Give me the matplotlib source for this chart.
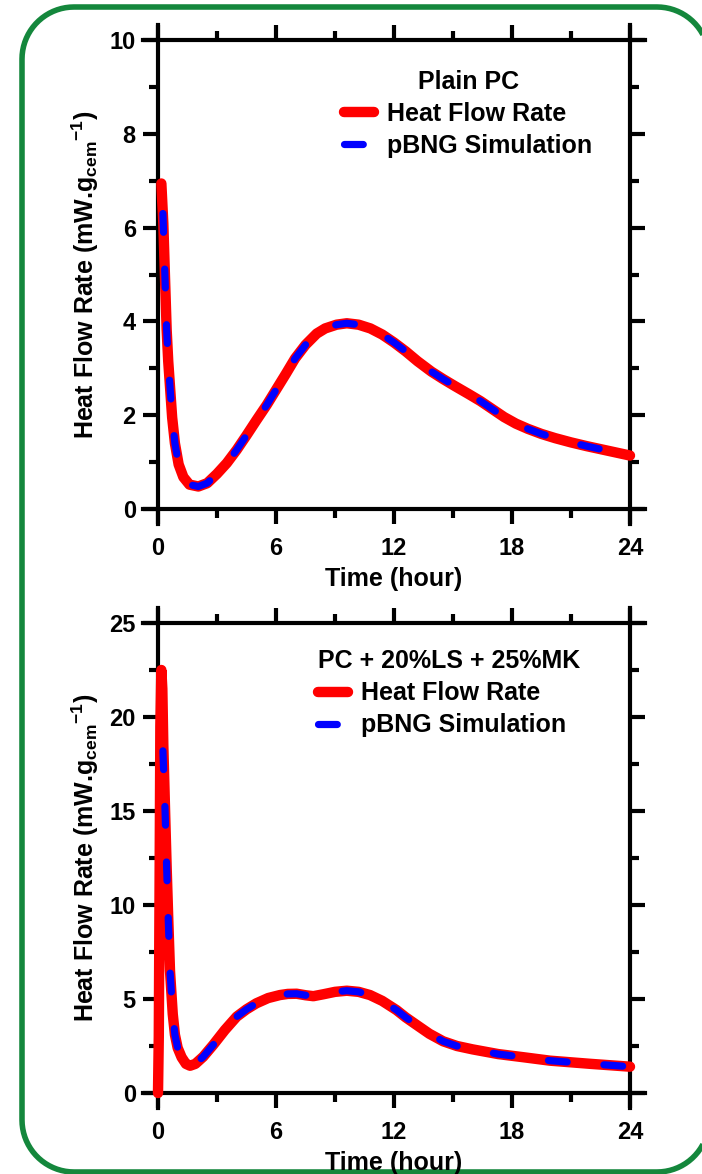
import matplotlib
matplotlib.use('Agg')
import matplotlib.pyplot as plt
import numpy as np
from matplotlib.ticker import MultipleLocator
from matplotlib.lines import Line2D

plt.rcParams['font.family'] = ['Liberation Sans', 'DejaVu Sans']
plt.rcParams['font.weight'] = 'bold'
plt.rcParams['axes.labelweight'] = 'bold'
plt.rcParams['mathtext.fontset'] = 'custom'
plt.rcParams['mathtext.rm'] = 'Liberation Sans:bold'
plt.rcParams['mathtext.bf'] = 'Liberation Sans:bold'
plt.rcParams['mathtext.default'] = 'rm'
plt.rcParams['savefig.bbox'] = 'standard'

# Plain PC - measured heat flow (hours, mW/g)
pc_time = [0.17, 0.27, 0.36, 0.44, 0.52, 0.61, 0.72, 0.86, 1.05, 1.29, 1.6,
           2.05, 2.5, 3.0, 3.5, 4.0, 4.5, 5.0, 5.53, 6.0, 6.5, 6.97, 7.5, 8.07, 8.5,
           9.08, 9.6, 10.2, 10.8, 11.4, 12.0, 12.6, 13.2, 13.9, 14.5, 15.1, 15.8,
           16.4, 17.0, 17.6, 18.2, 18.8, 19.5, 20.2, 21.0, 21.8, 22.9, 24.0]
pc_heat = [6.94, 6.09, 4.88, 3.82, 3.15, 2.61, 1.95, 1.40, 0.95, 0.68, 0.52,
           0.48, 0.55, 0.75, 0.98, 1.26, 1.57, 1.89, 2.22, 2.54, 2.88, 3.21, 3.5, 3.74,
           3.85, 3.93, 3.96, 3.93, 3.85, 3.72, 3.55, 3.36, 3.15, 2.93, 2.77, 2.62, 2.45,
           2.3, 2.13, 1.96, 1.82, 1.71, 1.6, 1.51, 1.42, 1.34, 1.24, 1.14]
# Plain PC - pBNG simulation
pc_sim_time = [0.25, 0.36, 0.44, 0.52, 0.61, 0.72, 0.86, 1.05, 1.29, 1.6, 2.05, 2.5,
               3.0, 3.5, 4.0, 4.5, 5.0, 5.53, 6.0, 6.5, 6.97, 7.5, 8.07, 8.5, 9.08,
               9.6, 10.2, 10.8, 11.4, 12.0, 12.6, 13.2, 13.9, 14.5, 15.1, 15.8, 16.4,
               17.0, 17.6, 18.2, 18.8, 19.5, 20.2, 21.0, 21.8, 22.9, 24.0]
pc_sim = [6.3, 4.88, 3.82, 3.15, 2.61, 1.95, 1.40, 0.95, 0.68, 0.52, 0.48, 0.55,
          0.75, 0.98, 1.26, 1.57, 1.89, 2.22, 2.54, 2.88, 3.21, 3.5, 3.74, 3.85, 3.93,
          3.96, 3.93, 3.85, 3.72, 3.55, 3.36, 3.15, 2.93, 2.77, 2.62, 2.45, 2.3,
          2.13, 1.96, 1.82, 1.71, 1.6, 1.51, 1.42, 1.34, 1.24, 1.14]

# PC + 20%LS + 25%MK - measured heat flow
mk_time = [0.0, 0.04, 0.08, 0.12, 0.17, 0.22, 0.27, 0.36, 0.44, 0.52, 0.61, 0.75, 0.86,
           1.0, 1.2, 1.42, 1.63, 1.9, 2.3, 2.8, 3.4, 4.0, 4.5, 5.0, 5.6, 6.2, 6.6,
           7.05, 7.5, 7.9, 8.4, 9.0, 9.6, 10.2, 10.78, 11.4, 12.13, 12.6, 13.15,
           13.8, 14.5, 15.2, 16.0, 17.3, 18.6, 19.93, 22.0, 24.0]
mk_heat = [0.0, 3.0, 11.0, 19.5, 22.5, 21.5, 18.5, 15.0, 12.0, 9.3, 6.5, 4.2, 3.1,
           2.4, 1.9, 1.55, 1.45, 1.55, 1.93, 2.55, 3.35, 4.06, 4.45, 4.77, 5.05, 5.21,
           5.27, 5.28, 5.2, 5.15, 5.25, 5.38, 5.44, 5.38, 5.21, 4.9, 4.41, 4.02, 3.62,
           3.15, 2.75, 2.5, 2.32, 2.07, 1.9, 1.72, 1.55, 1.4]
# PC + 20%LS + 25%MK - pBNG simulation
mk_sim_time = [0.25, 0.36, 0.44, 0.52, 0.61, 0.75, 0.86, 1.0, 1.2, 1.42, 1.63, 1.9,
               2.3, 2.8, 3.4, 4.0, 4.5, 5.0, 5.6, 6.2, 6.6, 7.05, 7.5, 7.9, 8.4, 9.0,
               9.6, 10.2, 10.78, 11.4, 12.13, 12.6, 13.15, 13.8, 14.5, 15.2, 16.0,
               17.3, 18.6, 19.93, 22.0, 24.0]
mk_sim = [18.2, 15.0, 12.0, 9.3, 6.5, 4.2, 3.1, 2.4, 1.9, 1.55, 1.45, 1.55,
          1.93, 2.55, 3.35, 4.06, 4.45, 4.77, 5.05, 5.21, 5.27, 5.28, 5.2, 5.15,
          5.25, 5.38, 5.44, 5.38, 5.21, 4.9, 4.41, 4.02, 3.62, 3.15, 2.75, 2.5,
          2.32, 2.07, 1.9, 1.72, 1.55, 1.4]

FS = 18
YLABEL = r'Heat Flow Rate (mW.g$_{cem}$$^{-1}$)'


def style_axes(ax, ymax, ymajor, yminor):
    ax.set_xlim(0, 24)
    ax.set_ylim(0, ymax)
    ax.xaxis.set_major_locator(MultipleLocator(6))
    ax.xaxis.set_minor_locator(MultipleLocator(3))
    ax.yaxis.set_major_locator(MultipleLocator(ymajor))
    ax.yaxis.set_minor_locator(MultipleLocator(yminor))
    ax.tick_params(which='both', direction='out', top=True, right=True, width=3,
                   labelsize=17)
    ax.tick_params(which='major', length=11)
    ax.tick_params(which='minor', length=6.5)
    ax.tick_params(axis='x', which='major', pad=9)
    ax.tick_params(axis='y', which='major', pad=5)
    for s in ax.spines.values():
        s.set_linewidth(3)
    # origin style: axis lines run past the corners
    dx = 24 * 15 / 472
    dy = ymax * 15 / 470
    ax.spines['bottom'].set_bounds(-dx, 24 + dx)
    ax.spines['top'].set_bounds(-dx, 24 + dx)
    ax.spines['left'].set_bounds(-dy, ymax + dy)
    ax.spines['right'].set_bounds(-dy, ymax + dy)
    for s in ax.spines.values():
        s.set_clip_on(False)
    ax.set_xlabel('Time (hour)', fontsize=FS, labelpad=5)
    ax.set_ylabel(YLABEL, fontsize=FS, labelpad=6)


def plot_pair(ax, t, v, ts, vs):
    ax.plot(t, v, color='red', lw=7.5, solid_capstyle='round',
            solid_joinstyle='round', label='Heat Flow Rate', clip_on=False, zorder=3)
    ax.plot(ts, vs, color='blue', lw=5.2, dashes=(2.6, 5.1),
            dash_capstyle='round', label='pBNG Simulation', clip_on=False, zorder=4)


def add_legend(ax, title, loc, anchor, align):
    leg = ax.legend(title=title, loc=loc, bbox_to_anchor=anchor, frameon=False,
                    fontsize=FS, title_fontsize=FS, borderpad=0, borderaxespad=0,
                    handlelength=1.2, handletextpad=0.5, labelspacing=0.32,
                    alignment=align)
    leg.get_title().set_fontweight('bold')
    return leg


def frame_path(x0, y0, x1, y1, r):
    # open rounded outline (inches), starts and ends on the right side
    def arc(cx, cy, a0, a1):
        a = np.radians(np.linspace(a0, a1, 20))
        return cx + r * np.cos(a), cy + r * np.sin(a)
    parts = [arc(x1 - r, y1 - r, 0, 90), arc(x0 + r, y1 - r, 90, 180),
             arc(x0 + r, y0 + r, 180, 270), arc(x1 - r, y0 + r, 270, 360)]
    xs = np.concatenate([p[0] for p in parts])
    ys = np.concatenate([p[1] for p in parts])
    return xs, ys


fig = plt.figure(figsize=(7.02, 11.74), dpi=100)

fx, fy = frame_path(0.22, 0.02, 7.09, 11.67, 0.52)
fig.add_artist(Line2D(fx, fy, transform=fig.dpi_scale_trans, color='#14873c',
                      lw=4, solid_capstyle='butt', zorder=-1))

ax1 = fig.add_axes([158 / 702, 1 - 509 / 1174, 472 / 702, 469 / 1174])
plot_pair(ax1, pc_time, pc_heat, pc_sim_time, pc_sim)
style_axes(ax1, 10, 2, 1)
add_legend(ax1, 'Plain PC', 'upper center', (0.657, 0.937), 'center')

ax2 = fig.add_axes([158 / 702, 1 - 1093 / 1174, 472 / 702, 470 / 1174])
plot_pair(ax2, mk_time, mk_heat, mk_sim_time, mk_sim)
style_axes(ax2, 25, 5, 2.5)
add_legend(ax2, 'PC + 20%LS + 25%MK', 'upper left', (0.339, 0.944), 'left')

fig.savefig('out.png', dpi=100)
